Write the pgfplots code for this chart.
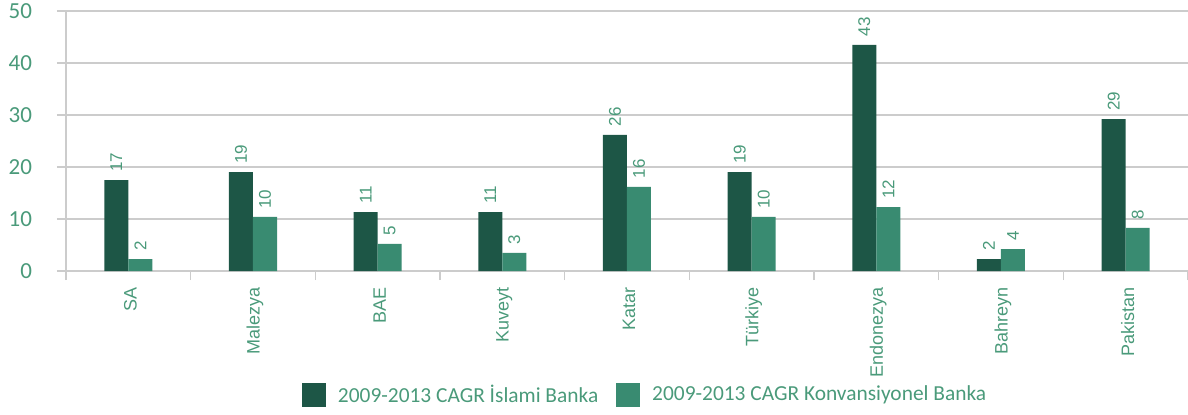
\documentclass[border=0pt]{standalone}
\usepackage{fontspec}
\setmainfont{Carlito}
\newfontfamily\arial{Liberation Sans}
\usepackage{pgfplots}
\usepackage{pgfplotstable}
\pgfplotsset{compat=1.18}
\definecolor{dk}{RGB}{29,86,70}
\definecolor{lt}{RGB}{57,139,113}
\definecolor{txt}{RGB}{74,154,122}
\definecolor{grd}{RGB}{204,204,204}

\pgfplotstableread{
x y lab
0 17.5 17
1 19.0 19
2 11.3 11
3 11.3 11
4 26.2 26
5 19.0 19
6 43.5 43
7 2.3 2
8 29.2 29
}\islami
\pgfplotstableread{
x y lab
0 2.3 2
1 10.4 10
2 5.2 5
3 3.5 3
4 16.2 16
5 10.4 10
6 12.3 12
7 4.2 4
8 8.3 8
}\konv

\begin{document}
\begin{tikzpicture}
\useasboundingbox (-33pt,-71.5pt) rectangle (561pt,135.5pt);
\begin{axis}[
  at={(0,0)}, anchor=south west,
  scale only axis, width=561pt, height=130pt,
  ybar=0pt, bar width=12pt,
  xmin=-0.5, xmax=8.5, ymin=0, ymax=50,
  xtick={0,...,8},
  xticklabels={SA,Malezya,BAE,Kuveyt,Katar,Türkiye,Endonezya,Bahreyn,Pakistan},
  minor xtick={-0.5,0.5,...,8.5},
  ytick={0,10,...,50},
  yticklabel={\pgfmathprintnumber[assume math mode=true]{\tick}},
  axis x line*=bottom, axis y line*=left,
  axis line style={grd, line width=0.6pt, -},
  major x tick style={draw=none},
  minor tick length=4.5pt,
  minor x tick style={grd, line width=0.6pt},
  major y tick style={grd, line width=0.6pt},
  major tick length=4.5pt,
  tick align=outside,
  ymajorgrids, grid style={grd, line width=0.6pt},
  yticklabel style={font=\fontsize{11.5}{12}\selectfont, text=txt, anchor=east, xshift=-9pt},
  xticklabel style={font=\arial\fontsize{9}{11}\selectfont, text=txt, rotate=90, anchor=east, yshift=-1pt},
  point meta=explicit symbolic,
  nodes near coords,
  nodes near coords style={font=\arial\fontsize{8.5}{10}\selectfont, text=txt, rotate=90, anchor=west, inner xsep=4pt, inner ysep=0pt},
  legend style={at={(0.517,-0.477)}, anchor=center, draw=none, fill=none, legend columns=2,
    font=\fontsize{10.7}{12}\selectfont, text=txt,
    /tikz/every odd column/.append style={column sep=4pt},
    /tikz/every even column/.append style={column sep=7pt}},
  legend image code/.code={\fill[#1] (0pt,-6pt) rectangle (12pt,6pt);},
]
\addplot[fill=dk, draw=none] table[x=x, y=y, meta=lab] {\islami};
\addplot[fill=lt, draw=none] table[x=x, y=y, meta=lab] {\konv};
\legend{2009-2013 CAGR İslami Banka, 2009-2013 CAGR Konvansiyonel Banka}
\end{axis}
\end{tikzpicture}
\end{document}
